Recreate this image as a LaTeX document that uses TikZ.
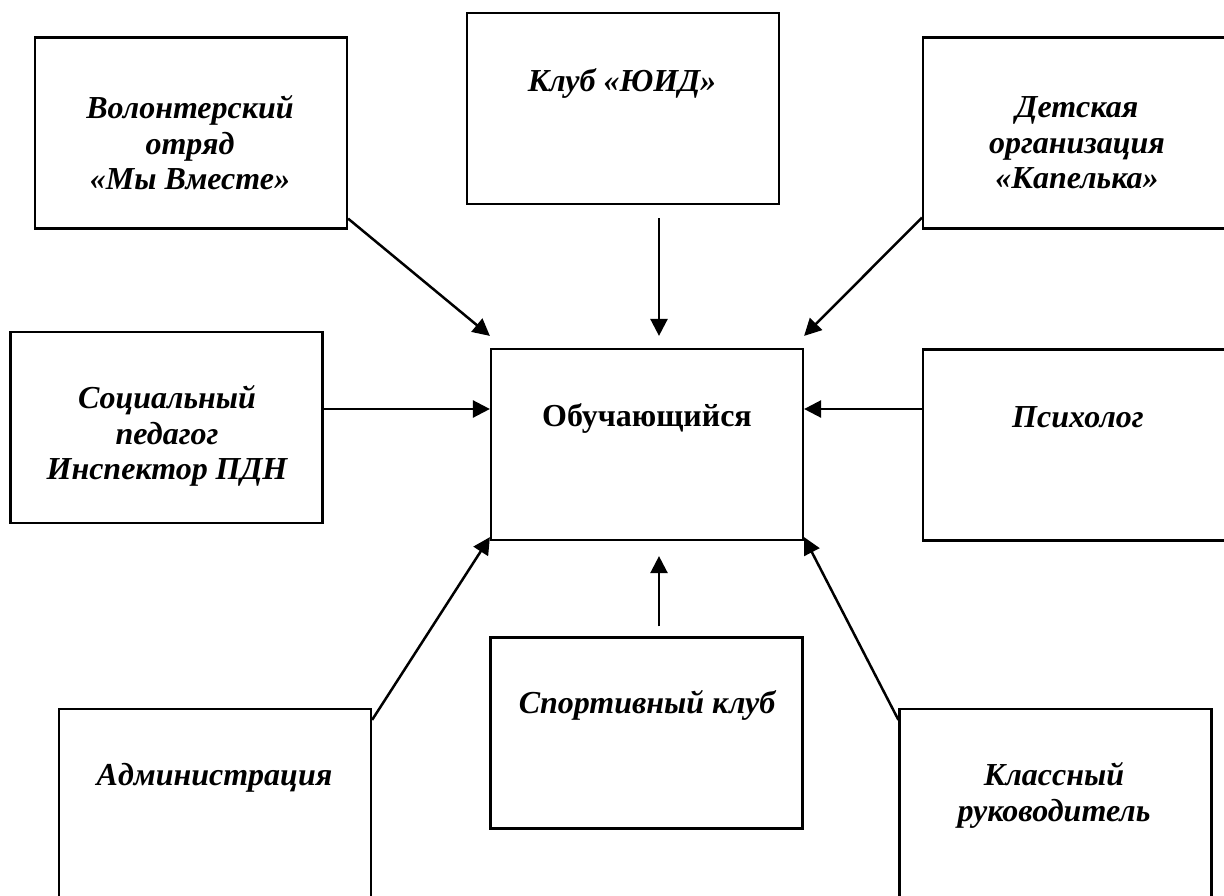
\documentclass[tikz,border=0pt]{standalone}
\usepackage{fontspec}
\setmainfont{Liberation Serif}
\usetikzlibrary{calc,arrows.meta}
\begin{document}
\begin{tikzpicture}[x=1pt,y=-1pt,
  box/.style={draw, line width=2.2pt, minimum width=312pt, minimum height=191pt, inner sep=0pt},
  txt/.style={font=\fontsize{32}{35.5}\selectfont\bfseries\itshape, align=center, inner sep=0pt},
  txtup/.style={font=\fontsize{32}{35.5}\selectfont\bfseries, align=center, inner sep=0pt},
  arr/.style={line width=2.5pt, -{Triangle[length=17pt,width=17pt]}}]
\useasboundingbox (0,0) rectangle (1224,895);
\clip (0,0) rectangle (1224,895);
% boxes
\node[box] (vol) at (191,133) {};
\node[box] (yuid) at (623,108.5) {};
\node[box] (det) at (1079,133) {};
\node[box] (soc) at (166.5,427.5) {};
\node[box] (ob) at (647,444.5) {};
\node[box] (psy) at (1079,445) {};
\node[box] (adm) at (215,804.5) {};
\node[box] (sport) at (646.5,733) {};
\node[box] (klass) at (1055.5,804.5) {};
% texts
\node[txt] (tvol) at (190,143) {Волонтерский\\отряд\\«Мы Вместе»};
\node[txt] (tyuid) at (622,83) {Клуб «ЮИД»};
\node[txt] (tdet) at (1077,143) {Детская\\организация\\«Капелька»};
\node[txt] (tsoc) at (167,436) {Социальный\\педагог\\Инспектор ПДН};
\node[txtup] (tob) at (647,418) {Обучающийся};
\node[txt] (tpsy) at (1078,417) {Психолог};
\node[txt] (tadm) at (214.5,778) {Администрация};
\node[txt] (tsport) at (647,705) {Спортивный клуб};
\node[txt] (tklass) at (1054,795.5) {Классный\\руководитель};
% connectors
\draw[arr] ($(vol.south east)+(0,-11)$) -- ($(ob.north west)+(0,-12)$);
\draw[arr] ($(yuid.south)+(36,13)$) -- ($(ob.north)+(12,-12)$);
\draw[arr] ($(det.south west)+(0,-12)$) -- ($(ob.north east)+(0,-12)$);
\draw[arr] ($(soc.east)+(0,-18.5)$) coordinate (s1) -- (s1 -| ob.west);
\draw[arr] ($(psy.west)+(0,-36)$) coordinate (p1) -- (p1 -| ob.east);
\draw[arr] ($(adm.north east)+(0,12)$) -- ($(ob.south west)+(0,-4)$);
\draw[arr] ($(klass.north west)+(0,12)$) -- ($(ob.south east)+(0,-4)$);
\draw[arr] ($(sport.north)+(12.5,-10)$) -- ($(ob.south)+(12,15)$);
\end{tikzpicture}
\end{document}
